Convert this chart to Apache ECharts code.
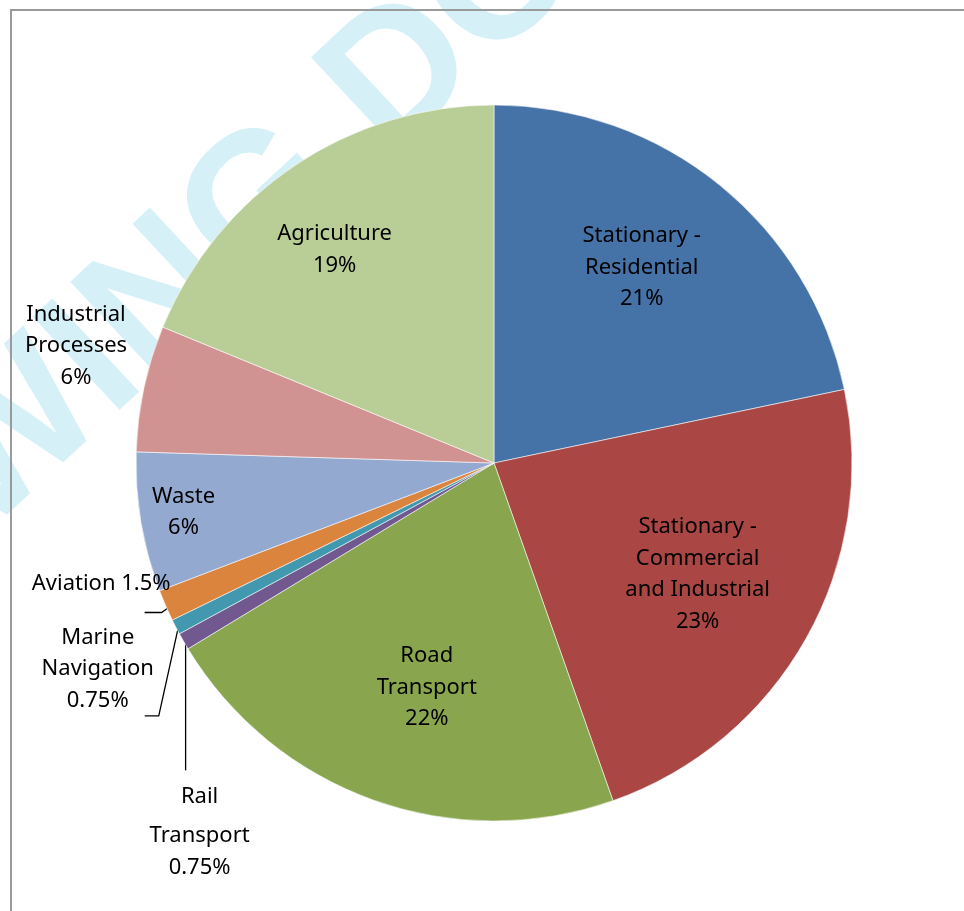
<!DOCTYPE html>
<html>
<head>
<meta charset="utf-8">
<script src="https://cdn.jsdelivr.net/npm/echarts@6/dist/echarts.min.js"></script>
<style>
  html, body { margin: 0; padding: 0; background: #fff; }
  #chart { width: 964px; height: 911px; }
</style>
</head>
<body>
<div id="chart"></div>
<script>
// ---- data ----
const categories = [
  'Stationary - Residential',
  'Stationary - Commercial and Industrial',
  'Road Transport',
  'Rail Transport',
  'Marine Navigation',
  'Aviation',
  'Waste',
  'Industrial Processes',
  'Agriculture'
];
const values = [21.7, 22.9, 21.7, 0.77, 0.69, 1.42, 6.3, 5.7, 18.8];
// percentage texts as printed on the chart
const pctLabels = ['21%', '23%', '22%', '0.75%', '0.75%', '1.5%', '6%', '6%', '19%'];
// how the category names are wrapped in the labels
const labelNames = [
  'Stationary -\nResidential',
  'Stationary -\nCommercial\nand Industrial',
  'Road\nTransport',
  'Rail\nTransport',
  'Marine\nNavigation',
  'Aviation',
  'Waste',
  'Industrial\nProcesses',
  'Agriculture'
];
const colors = ['#4572A7', '#AA4643', '#89A54E', '#71588F', '#4198AF', '#DB843D', '#93A9CF', '#D19392', '#B9CD96'];

// ---- label layout (style only) ----
const outsideIdx = [3, 4, 5];
const insideShift = { 0: [33, -54], 1: [45, 22], 2: [-6, 53], 6: [-131, 19], 7: [-240, -79], 8: [-58, -62] };
// outside labels: [label dx, label dy, align] relative to the slice edge anchor, plus leader bends
const outsideLayout = {
  5: { d: [5, -22], align: 'right', line: [[3, 2], [-4, 7], [-21, 7]] },
  4: { d: [-78, 42], align: 'center', line: [[2, 3], [-17, 89], [-31, 89]] },
  3: { d: [16, 187], align: 'center', line: [[2, 2], [2, 66], [2, 129]] }
};

const FONT = 'Noto Sans';
const FS = 22;
const LH = 31.5;

const data = categories.map((c, i) => {
  const outside = outsideIdx.indexOf(i) >= 0;
  return {
    name: c,
    value: values[i],
    itemStyle: { color: colors[i] },
    label: { position: outside ? 'outside' : 'inside' },
    labelLine: { show: outside }
  };
});

function fmt(p) {
  const i = p.dataIndex;
  if (i === 5) return labelNames[i] + ' ' + pctLabels[i];
  const lines = (labelNames[i] + '\n' + pctLabels[i]).split('\n');
  if (i === 3) return lines.map((l, k) => (k === 0 ? '{a|' + l + '}' : '{b|' + l + '}')).join('\n');
  return lines.join('\n');
}

const chart = echarts.init(document.getElementById('chart'), null, { renderer: 'canvas' });
chart.setOption({
  animation: false,
  backgroundColor: '#ffffff',
  graphic: [
    {
      type: 'text',
      z: -10,
      x: -52, y: 500,
      rotation: 43 * Math.PI / 180,
      style: {
        text: 'WING DOC',
        font: 'bold 185px "Liberation Sans"',
        fill: '#D5F0F7',
        textAlign: 'left',
        textVerticalAlign: 'middle'
      }
    },
    {
      type: 'rect',
      z: 100,
      shape: { x: 11, y: 10, width: 1000, height: 1000 },
      style: { fill: 'none', stroke: '#9a9a9a', lineWidth: 2 }
    }
  ],
  series: [{
    type: 'pie',
    center: [494, 463],
    radius: [0, 358],
    startAngle: 90,
    clockwise: true,
    avoidLabelOverlap: false,
    data: data,
    itemStyle: { borderColor: 'rgba(255,255,255,0.7)', borderWidth: 0.8 },
    label: {
      show: true,
      formatter: fmt,
      color: '#000',
      fontFamily: FONT,
      fontSize: FS,
      lineHeight: LH,
      align: 'center',
      rich: {
        a: { fontFamily: FONT, fontSize: FS, lineHeight: 47, color: '#000' },
        b: { fontFamily: FONT, fontSize: FS, lineHeight: LH, color: '#000' }
      }
    },
    labelLine: { show: false, length: 5, length2: 5, lineStyle: { color: '#000', width: 1.3 } },
    emphasis: { disabled: true },
    labelLayout: function (params) {
      const i = params.dataIndex;
      if (insideShift[i]) return { dx: insideShift[i][0], dy: insideShift[i][1] };
      const o = outsideLayout[i];
      if (o && params.labelLinePoints) {
        const a = params.labelLinePoints[0];
        return {
          x: a[0] + o.d[0],
          y: a[1] + o.d[1],
          align: o.align,
          verticalAlign: 'middle',
          labelLinePoints: o.line.map(q => [a[0] + q[0], a[1] + q[1]])
        };
      }
      return {};
    }
  }]
});
</script>
</body>
</html>
